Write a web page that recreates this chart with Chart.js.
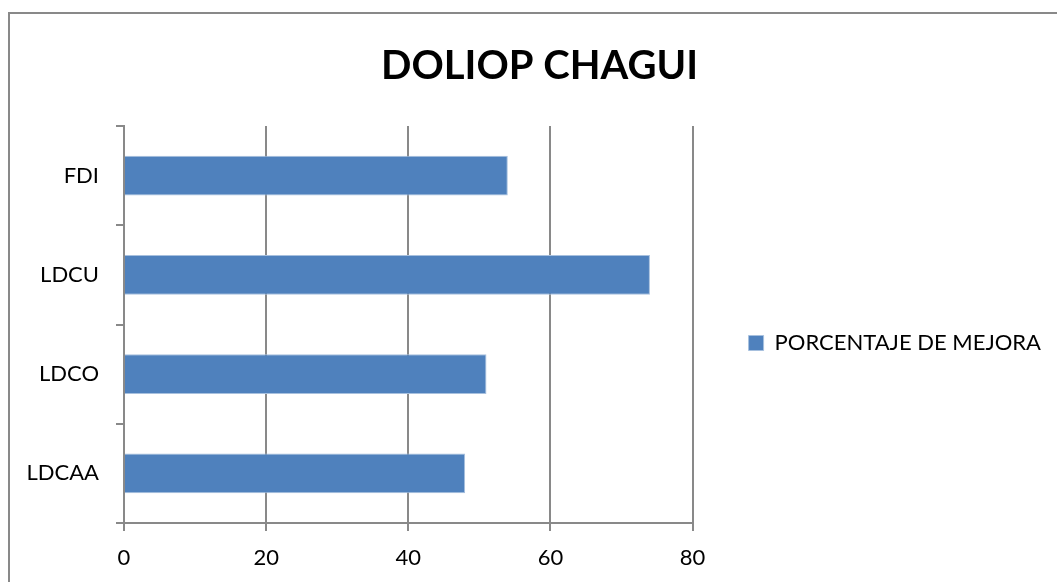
<!DOCTYPE html>
<html>
<head>
<meta charset="utf-8">
<script src="https://cdn.jsdelivr.net/npm/chart.js@4/dist/chart.umd.min.js"></script>
<style>
  html, body { margin: 0; padding: 0; background: #fff; overflow: hidden; }
  #wrap { position: relative; width: 1057px; height: 582px; overflow: hidden; }
  #frame { position: absolute; left: 8px; top: 12px; width: 1100px; height: 700px;
           border-left: 2px solid #898989; border-top: 2px solid #898989; box-sizing: border-box; }
  canvas { position: absolute; left: 0; top: 0; }
</style>
</head>
<body>
<div id="wrap">
  <div id="frame"></div>
  <canvas id="c" width="1057" height="582"></canvas>
</div>
<script>
const chartTitle = 'DOLIOP CHAGUI';
const categories = ['FDI', 'LDCU', 'LDCO', 'LDCAA'];
const seriesName = 'PORCENTAJE DE MEJORA';
const seriesValues = [54, 74, 51, 48];
const xTicks = [0, 20, 40, 60, 80];

const FONT = 'Lato, "Open Sans", "DejaVu Sans", sans-serif';
const GRID = '#898989';

new Chart(document.getElementById('c'), {
  type: 'bar',
  data: {
    labels: categories,
    datasets: [{
      label: seriesName,
      data: seriesValues,
      backgroundColor: '#4F81BD',
      borderColor: '#A7C0DE',
      borderWidth: 1,
      borderSkipped: 'start',
      barPercentage: 0.4,
      categoryPercentage: 1.0
    }]
  },
  options: {
    indexAxis: 'y',
    responsive: false,
    animation: false,
    devicePixelRatio: 1,
    layout: { padding: { left: 28, right: 6, top: 0, bottom: 10 } },
    plugins: {
      title: {
        display: true,
        text: chartTitle,
        color: '#000',
        font: { family: FONT, size: 40, weight: 'bold', lineHeight: 1.2 },
        padding: { top: 42, bottom: 36 }
      },
      legend: {
        display: true,
        position: 'right',
        fullSize: false,
        maxWidth: 420,
        title: { display: true, text: '', font: { size: 20, lineHeight: 1 }, padding: { top: 0, bottom: 17 } },
        labels: {
          color: '#000',
          font: { family: FONT, size: 22 },
          boxWidth: 15,
          boxHeight: 15,
          padding: 56
        }
      },
      tooltip: { enabled: false }
    },
    scales: {
      x: {
        type: 'linear',
        min: xTicks[0],
        max: xTicks[xTicks.length - 1],
        afterBuildTicks: (scale) => { scale.ticks = xTicks.map(v => ({ value: v })); },
        afterFit: (scale) => { scale.height = 49; },
        ticks: {
          color: '#000',
          font: { family: FONT, size: 22 },
          padding: 14
        },
        grid: { color: GRID, lineWidth: 2, tickLength: 8, drawTicks: true },
        border: { display: true, color: GRID, width: 2 }
      },
      y: {
        type: 'category',
        offset: true,
        afterFit: (scale) => { scale.width = 96; },
        ticks: {
          color: '#000',
          font: { family: FONT, size: 22 },
          padding: 17
        },
        grid: { offset: true, drawOnChartArea: false, drawTicks: true, tickLength: 8, color: GRID, lineWidth: 2 },
        border: { display: true, color: GRID, width: 2 }
      }
    }
  }
});
</script>
</body>
</html>
